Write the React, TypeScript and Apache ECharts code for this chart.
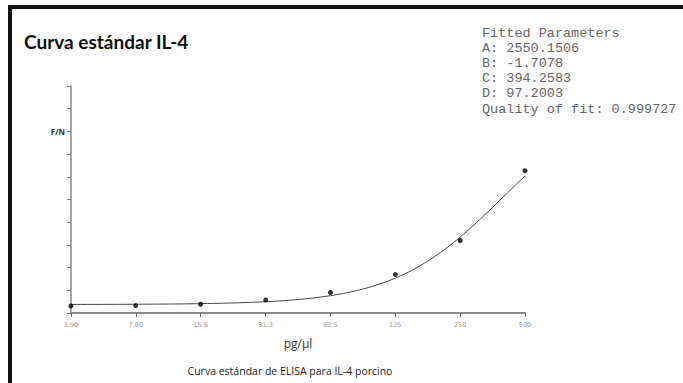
import React, { useEffect, useRef } from "react";
import * as echarts from "echarts";

// Standard concentrations (pg/µl) and their axis labels
const concentrations = [3.9, 7.8, 15.6, 31.3, 62.5, 125, 250, 500];
const tickLabels = ["3.90", "7.80", "15.6", "31.3", "62.5", "125", "250", "500"];
// Measured F/N for each standard
const measured = [80, 85, 100, 150, 235, 440, 830, 1630];

// Four-parameter logistic fit
const fitA = 2550.1506;
const fitB = -1.7078;
const fitC = 394.2583;
const fitD = 97.2003;
const fitQuality = 0.999727;

const paramLines = [
  "Fitted Parameters",
  `A: ${fitA.toFixed(4)}`,
  `B: ${fitB.toFixed(4)}`,
  `C: ${fitC.toFixed(4)}`,
  `D: ${fitD.toFixed(4)}`,
  `Quality of fit: ${fitQuality}`,
];

// position on the two-fold dilution axis (500 sits at 7)
const pos = (c: number) => Math.log2(c / 500) + 7;
const fourPL = (c: number) => fitD + (fitA - fitD) / (1 + Math.pow(c / fitC, fitB));

export default function App() {
  const ref = useRef<HTMLDivElement>(null);

  useEffect(() => {
    if (!ref.current) return;
    const chart = echarts.init(ref.current, undefined, { renderer: "svg" });

    const points = concentrations.map((c, i) => [pos(c), measured[i]]);
    const curve: number[][] = [];
    for (let t = 0; t <= 7.0001; t += 0.05) {
      const c = 500 * Math.pow(2, t - 7);
      curve.push([t, fourPL(c)]);
    }

    chart.setOption({
      animation: false,
      backgroundColor: "#ffffff",
      grid: { left: 71, top: 86, width: 454, height: 227 },
      xAxis: {
        type: "value",
        min: 0,
        max: 7,
        interval: 1,
        name: "pg/µl",
        nameLocation: "middle",
        nameGap: 24,
        nameTextStyle: { fontFamily: "Open Sans", fontSize: 12, color: "#333" },
        axisLine: { show: true, lineStyle: { color: "#8a8a8a", width: 2 } },
        axisTick: { show: true, length: 4, lineStyle: { color: "#666", width: 1 } },
        axisLabel: {
          margin: 8,
          fontSize: 6.5,
          fontFamily: "DejaVu Sans",
          color: "#999",
          formatter: (v: number) => tickLabels[Math.round(v)] ?? "",
        },
        splitLine: { show: false },
      },
      yAxis: {
        type: "value",
        min: 0,
        max: 2600,
        interval: 260,
        axisLine: { show: true, lineStyle: { color: "#8a8a8a", width: 1.5 } },
        axisTick: { show: true, length: 4, lineStyle: { color: "#777", width: 1 } },
        axisLabel: {
          margin: 6,
          fontSize: 8,
          fontWeight: "bold",
          fontFamily: "Open Sans",
          color: "#333",
          formatter: (v: number) => (Math.round(v) === 2080 ? "F/N" : ""),
        },
        splitLine: { show: false },
      },
      series: [
        {
          type: "line",
          data: curve,
          showSymbol: false,
          lineStyle: { color: "#444", width: 1 },
          z: 2,
        },
        {
          type: "scatter",
          data: points,
          symbolSize: 5,
          clip: false,
          itemStyle: { color: "#000" },
          z: 3,
        },
      ],
      graphic: [
        { type: "rect", shape: { x: 8, y: 5, width: 675, height: 4 }, style: { fill: "#111" } },
        { type: "rect", shape: { x: 8, y: 5, width: 4, height: 378 }, style: { fill: "#111" } },
        {
          type: "text",
          x: 24,
          y: 41,
          style: {
            text: "Curva estándar IL-4",
            fontFamily: "Lato",
            fontWeight: "bold",
            fontSize: 19,
            fill: "#111",
            verticalAlign: "middle",
          },
        },
        ...paramLines.map((line, i) => ({
          type: "text",
          x: 482,
          y: 33 + i * 15.2,
          style: {
            text: line,
            fontFamily: "Liberation Mono",
            fontSize: 13.5,
            fill: "#666",
            verticalAlign: "middle",
          },
        })),
        {
          type: "text",
          x: 290,
          y: 371,
          style: {
            text: "Curva estándar de ELISA para IL-4 porcino",
            fontFamily: "Open Sans",
            fontSize: 10.5,
            fill: "#222",
            align: "center",
            verticalAlign: "middle",
          },
        },
      ],
    });

    return () => chart.dispose();
  }, []);

  return (
    <div
      ref={ref}
      style={{ position: "absolute", left: 0, top: 0, width: 683, height: 383, background: "#fff" }}
    />
  );
}
